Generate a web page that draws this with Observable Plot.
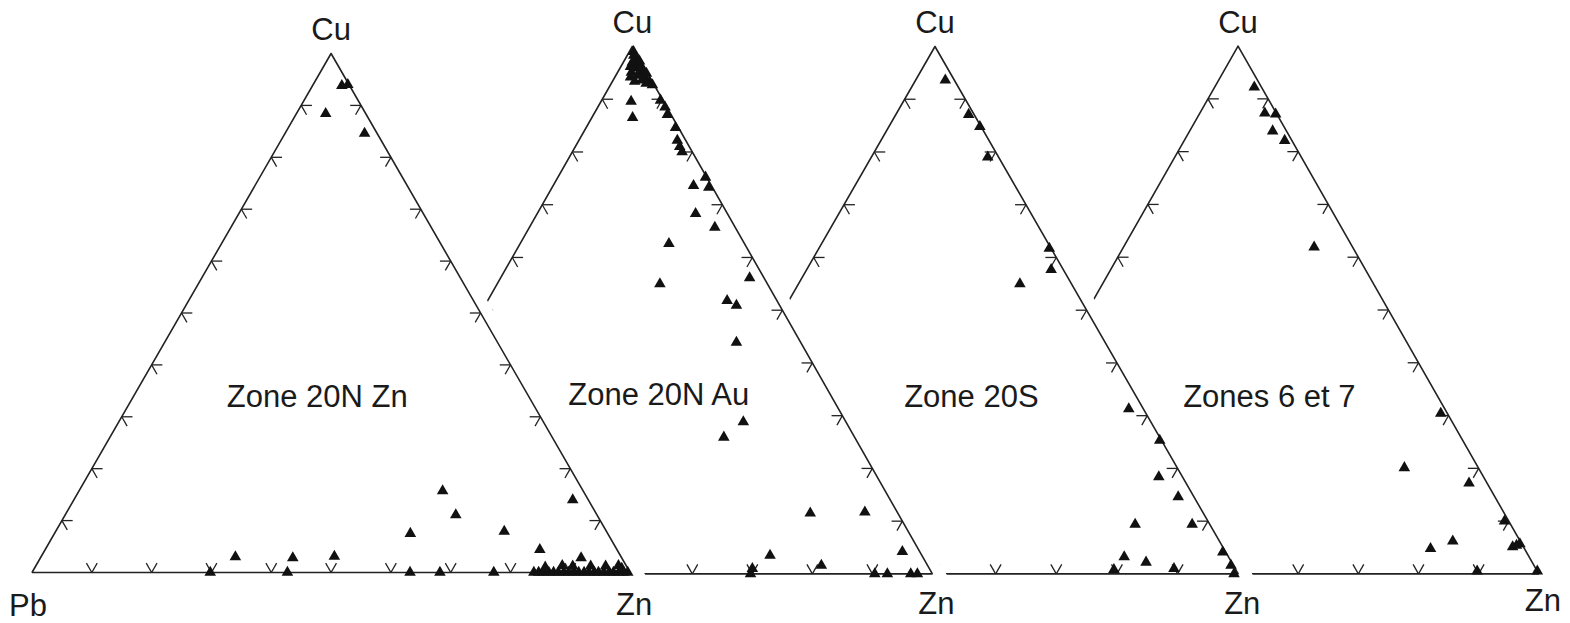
<!DOCTYPE html>
<html>
<head>
<meta charset="utf-8">
<script src="https://cdn.jsdelivr.net/npm/d3@7"></script>
<script src="https://cdn.jsdelivr.net/npm/@observablehq/plot@0.6"></script>
<style>
  html, body { margin: 0; padding: 0; background: #ffffff; }
  #chart svg { display: block; }
</style>
</head>
<body>
<div id="chart"></div>
<script>
// ---------- DATA ----------
const apexLabel = "Cu";
const leftLabel = "Pb";
const rightLabel = "Zn";
const zoneNames = ["Zone 20N Zn", "Zone 20N Au", "Zone 20S", "Zones 6 et 7"];
const tickValues = [10, 20, 30, 40, 50, 60, 70, 80, 90]; // % along each edge

// samples as [Cu, Pb, Zn] in %
const zone20NZn = [
  [93.8, 1.3, 4.9], [94.0, 0.2, 5.8], [88.4, 6.7, 4.9], [84.6, 2.1, 13.3],
  [3.0, 64.5, 32.5], [2.8, 55.0, 42.2], [3.1, 47.9, 49.0],
  [0, 70.2, 29.8], [0, 57.3, 42.7],
  [7.5, 33.0, 59.5], [15.7, 23.5, 60.8], [11.1, 23.6, 65.3], [7.9, 17.1, 75.0],
  [14.0, 2.6, 83.4], [4.4, 12.9, 82.7], [2.8, 6.8, 90.4],
  [0, 36.8, 63.2], [0, 31.8, 68.2], [0, 22.8, 77.2],
  [0, 16.1, 83.9], [0, 15.3, 84.7], [0, 14.5, 85.5], [0, 13.6, 86.4], [0, 12.8, 87.2],
  [0, 12.0, 88.0], [0, 11.1, 88.9], [0, 10.3, 89.7], [0, 9.4, 90.6], [0, 8.6, 91.4],
  [0, 7.7, 92.3], [0, 6.9, 93.1], [0, 6.0, 94.0], [0, 5.3, 94.7], [0, 4.4, 95.6],
  [0, 3.5, 96.5], [0, 2.8, 97.2], [0, 1.9, 98.1], [0, 1.1, 98.9], [0, 0.4, 99.6],
  [1.0, 13.7, 85.3], [1.3, 10.7, 88.0], [1.2, 9.0, 89.8], [1.2, 6.0, 92.8],
  [1.2, 3.5, 95.3], [1.3, 1.3, 97.4], [0.8, 1.0, 98.2]
];
const zone20NAu = [
  [99.0, 0.3, 0.7], [98.3, 0.6, 1.1], [97.7, 0.4, 1.9], [97.0, 1.5, 1.5], [96.8, 0.6, 2.6],
  [97.2, 0.2, 2.6], [95.9, 1.5, 2.6], [96.0, 0.6, 3.4], [95.1, 0.6, 4.3], [95.1, 2.6, 2.3],
  [95.5, 0.4, 4.1], [94.5, 1.9, 3.6], [94.0, 0.8, 5.2], [93.6, 1.6, 4.8], [93.2, 0.5, 6.3],
  [93.4, 2.9, 3.7], [92.7, 0.3, 7.0], [96.2, 2.2, 1.6], [94.9, 0.2, 4.9], [93.0, 1.2, 5.8],
  [94.2, 3.2, 2.6],
  [89.8, 0.4, 9.8], [88.5, 0.3, 11.2], [87.1, 0.6, 12.3], [84.6, 0.5, 14.9], [81.0, 1.6, 17.4],
  [80.0, 1.7, 18.3], [82.2, 1.4, 16.4], [89.6, 5.4, 5.0], [86.5, 6.7, 6.8],
  [73.6, 3.0, 23.4], [75.2, 0.2, 24.6], [73.3, 0.6, 26.1], [68.3, 5.3, 26.4], [65.7, 3.4, 30.9],
  [62.6, 12.6, 24.8], [55.0, 17.9, 27.1], [56.1, 2.4, 41.5], [51.8, 8.3, 39.9], [50.9, 7.2, 41.9],
  [43.9, 10.7, 45.4], [28.8, 17.1, 54.1], [25.9, 21.8, 52.3],
  [11.5, 14.6, 73.9], [11.7, 5.4, 82.9], [3.5, 25.3, 71.2], [4.2, 2.9, 92.9], [1.6, 17.7, 80.7],
  [0, 30.3, 69.7], [1.0, 29.5, 69.5], [0, 9.6, 90.4], [0, 7.5, 92.5], [0, 3.6, 96.4], [0, 2.5, 97.5]
];
const zone20S = [
  [93.6, 1.5, 4.9], [87.1, 0.9, 12.0], [84.8, 0.2, 15.0], [79.0, 1.8, 19.2],
  [61.7, 0.3, 38.0], [57.7, 2.0, 40.3], [55.0, 8.5, 36.5],
  [31.3, 2.4, 66.3], [25.3, 0.3, 74.4], [18.4, 3.9, 77.7], [14.6, 2.6, 82.8],
  [9.4, 12.3, 78.3], [9.4, 2.9, 87.7], [4.1, 0.5, 95.4], [3.2, 17.2, 79.6],
  [2.2, 14.1, 83.7], [0.8, 20.1, 79.1], [1.0, 10.1, 88.9], [1.6, 0.4, 98.0], [0, 0.7, 99.3]
];
const zones6et7 = [
  [92.2, 1.2, 6.6], [87.3, 1.9, 10.8], [87.1, 0.2, 12.7], [83.9, 2.3, 13.8], [82.1, 1.2, 16.7],
  [61.9, 6.4, 31.7], [30.4, 1.1, 68.5], [20.1, 12.3, 67.6], [17.2, 3.0, 79.8],
  [10.0, 0.7, 89.3], [5.1, 1.8, 93.1], [5.7, 0.3, 94.0], [5.4, 1.0, 93.6],
  [6.2, 11.2, 82.6], [4.8, 15.6, 79.6], [0.5, 10.0, 89.5], [0.5, 0.0, 99.5]
];

// ---------- LAYOUT (panel placement in plot units) ----------
const panelLayout = [
  { left: -0.5003, width: 0.9967, base: 0.0027, height: 0.984, labelX: 0.477, labelY: 0.338, znDy: 33 },
  { left: 0.0,     width: 1.0,    base: 0.0,    height: 1.0,   labelX: 0.544, labelY: 0.340, znDy: 30 },
  { left: 0.499,   width: 1.0107, base: 0.0,    height: 1.0,   labelX: 0.560, labelY: 0.335, znDy: 30 },
  { left: 1.0082,  width: 1.0023, base: 0.0,    height: 1.0008, labelX: 0.552, labelY: 0.335, znDy: 27 }
];
const sampleSets = [zone20NZn, zone20NAu, zone20S, zones6et7];
const zones = zoneNames.map((name, i) => ({ name, index: i, samples: sampleSets[i], ...panelLayout[i] }));

// ternary projection (cu, zn as fractions)
const px = (p, cu, zn) => p.left + p.width * (zn + cu / 2);
const py = (p, cu) => p.base + p.height * cu;

const tickLen = 0.018;
const occlude = 0.023;
const lineColor = "#222222";
const font = "'Liberation Sans', Arial, Helvetica, sans-serif";

function tickSegments() {
  const segs = [];
  for (const v of tickValues) {
    const t = v / 100, d = tickLen;
    // left edge (Pb–Cu): Zn = 0
    segs.push({ a: [t, 0], b: [t, d] }, { a: [t, 0], b: [t - d, d] });
    // right edge (Cu–Zn): Pb = 0
    segs.push({ a: [t, 1 - t], b: [t, 1 - t - d] }, { a: [t, 1 - t], b: [t - d, 1 - t] });
    // bottom edge (Pb–Zn): Cu = 0
    segs.push({ a: [0, t], b: [d, t - d] }, { a: [0, t], b: [d, t] });
  }
  return segs;
}
const ticks = tickSegments();
const corners = [[1, 0], [0, 0], [0, 1], [1, 0]]; // [cu, zn]: Cu, Pb, Zn, back to Cu
const e = occlude;
const outerCorners = [[1 + 2 * e, -e], [-e, -e], [-e, 1 + 2 * e], [1 + 2 * e, -e]];

const marks = [];
for (let i = zones.length - 1; i >= 0; i--) {
  const p = zones[i];
  if (i < zones.length - 1) {
    marks.push(Plot.line(outerCorners, {
      x: c => px(p, c[0], c[1]), y: c => py(p, c[0]),
      fill: "white", stroke: "none"
    }));
  }
  marks.push(Plot.line(corners, {
    x: c => px(p, c[0], c[1]), y: c => py(p, c[0]),
    stroke: lineColor, strokeWidth: 1.6, strokeLinejoin: "miter"
  }));
  marks.push(Plot.link(ticks, {
    x1: s => px(p, s.a[0], s.a[1]), y1: s => py(p, s.a[0]),
    x2: s => px(p, s.b[0], s.b[1]), y2: s => py(p, s.b[0]),
    stroke: lineColor, strokeWidth: 1.3
  }));
  marks.push(Plot.dot(p.samples, {
    x: s => px(p, s[0] / 100, s[2] / 100), y: s => py(p, s[0] / 100),
    symbol: "triangle", r: 4.3, fill: "#111", stroke: "none"
  }));
}
// labels
marks.push(Plot.text(zones, {
  x: p => px(p, 1, 0), y: p => py(p, 1), text: () => apexLabel,
  dy: -23, fontSize: 31, fontFamily: font, fill: "#1a1a1a"
}));
for (const p of zones) {
  marks.push(Plot.text([p], {
    x: q => px(q, 0, 1), y: q => py(q, 0), text: () => rightLabel,
    dx: 4, dy: p.znDy, fontSize: 31, fontFamily: font, fill: "#1a1a1a"
  }));
}
marks.push(Plot.text(zones.slice(0, 1), {
  x: p => px(p, 0, 0), y: p => py(p, 0), text: () => leftLabel,
  dx: -4, dy: 34, fontSize: 31, fontFamily: font, fill: "#1a1a1a"
}));
marks.push(Plot.text(zones, {
  x: p => p.left + p.width * p.labelX, y: p => p.base + p.height * p.labelY, text: p => p.name,
  fontSize: 31, fontFamily: font, fill: "#1a1a1a"
}));

const chart = Plot.plot({
  width: 1570,
  height: 623,
  margin: 0,
  style: { background: "#ffffff", overflow: "visible" },
  x: { domain: [-0.5003, 2.01], range: [31.5, 1538], axis: null },
  y: { domain: [0, 1], range: [573.4, 46], axis: null },
  marks
});
document.getElementById("chart").appendChild(chart);
</script>
</body>
</html>
